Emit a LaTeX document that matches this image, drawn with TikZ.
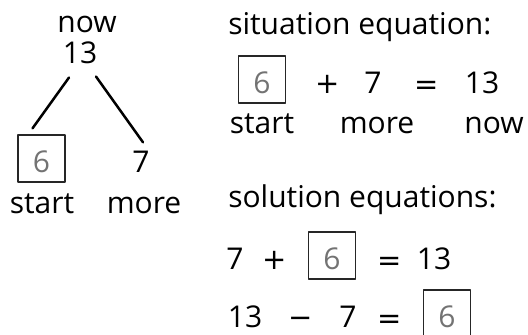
\documentclass[tikz,border=0pt]{standalone}
\usepackage{fontspec}
\setmainfont{Open Sans}
\newfontfamily\opfont{DejaVu Sans}
\begin{document}
\begin{tikzpicture}[x=1pt, y=1pt, line width=2.5pt, line cap=round, line join=round,
    txt/.style={inner sep=0pt, anchor=base, font=\fontsize{30}{36}\selectfont},
    op/.style={txt, font=\fontsize{29}{36}\opfont},
    unknown/.style={txt, draw=black!85, line width=1.3pt, text=black!55,
        minimum width=47pt, minimum height=47pt, text height=27pt, text depth=0pt}]

    % Riquadro della figura
    \useasboundingbox (0,0) rectangle (528,-335);

    % Albero a sinistra: totale in alto, parti in basso
    \node[txt] (treeNow) at (87,-32) {now};
    \node[txt] (tree13) at (80,-63) {13};
    \node[unknown] (tree6) at (41.5,-172) {6};
    \node[txt] (tree7) at (141,-172) {7};
    \node[txt] (treeStart) at (42,-213) {start};
    \node[txt] (treeMore) at (144,-213) {more};

    % Rami (non toccano i numeri)
    \draw ([xshift=-11pt,yshift=-13pt]tree13.south) -- ([xshift=-9pt,yshift=6pt]tree6.north);
    \draw ([xshift=16pt,yshift=-12pt]tree13.south) -- ([xshift=2pt,yshift=7pt]tree7.north);

    % Equazione della situazione
    \node[txt, anchor=base west] (sitTitle) at (227,-34) {situation equation:};
    \node[unknown] (sit6) at (262,-93) {6};
    \node[op] (sitPlus) at (328,-93) {+};
    \node[txt] (sit7) at (373,-93) {7};
    \node[op] (sitEq) at (427,-94) {=};
    \node[txt] (sit13) at (482,-93) {13};
    \node[txt] (sitStart) at (262,-133) {start};
    \node[txt] (sitMore) at (377,-133) {more};
    \node[txt] (sitNow) at (494,-133) {now};

    % Equazioni risolutive
    \node[txt, anchor=base west] (solTitle) at (227,-207) {solution equations:};
    % prima riga
    \node[txt] (solA7) at (235,-269) {7};
    \node[op] (solAPlus) at (275,-269) {+};
    \node[unknown] (solA6) at (332,-269) {6};
    \node[op] (solAEq) at (390,-270) {=};
    \node[txt] (solA13) at (434,-269) {13};
    % seconda riga
    \node[txt] (solB13) at (245,-327) {13};
    \node[op] (solBMinus) at (301,-327) {−};
    \node[txt] (solB7) at (348,-327) {7};
    \node[op] (solBEq) at (390,-328) {=};
    \node[unknown] (solB6) at (447,-327) {6};

\end{tikzpicture}
\end{document}
